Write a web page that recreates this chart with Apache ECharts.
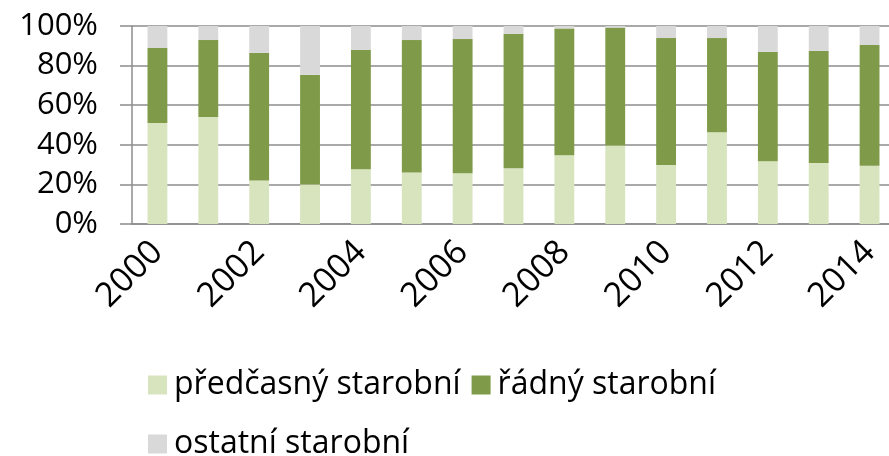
<!DOCTYPE html>
<html>
<head>
<meta charset="utf-8">
<script src="https://cdn.jsdelivr.net/npm/echarts@6/dist/echarts.min.js"></script>
<style>
  html, body { margin: 0; padding: 0; background: #fff; }
  #chart { width: 889px; height: 456px; }
</style>
</head>
<body>
<div id="chart"></div>
<script>
// roky
var years = ["2000", "2001", "2002", "2003", "2004", "2005", "2006", "2007",
  "2008", "2009", "2010", "2011", "2012", "2013", "2014"];
// podíly v %
var predcasny = [51, 54, 22, 20, 27.6, 26, 25.6, 28.1, 34.7, 39.7, 29.8, 46.3, 31.7, 30.8, 29.4];
var radny = [38, 38.9, 64.4, 55.3, 60.3, 66.9, 67.8, 68, 64.1, 59.5, 64.1, 47.6, 55.3, 56.6, 61];
var ostatni = [11, 7.1, 13.6, 24.7, 12.1, 7.1, 6.6, 3.9, 1.2, 0.8, 6.1, 6.1, 13, 12.6, 9.6];
var yTicks = [0, 20, 40, 60, 80, 100];

var chart = echarts.init(document.getElementById("chart"));
var font = "'Open Sans', sans-serif";
var lineCol = "#8c8c8c";

var legendText = { fontSize: 32, fontFamily: font, color: "#000", padding: [0, 0, 0, 2] };

var option = {
  animation: false,
  textStyle: { fontFamily: font, color: "#000" },
  grid: { left: 132, top: 26, bottom: 232, right: -6, outerBoundsMode: "none", containLabel: false },
  legend: [
    {
      data: ["předčasný starobní", "řádný starobní"],
      left: 143, top: 364,
      itemWidth: 19, itemHeight: 19, itemGap: 11,
      icon: "rect",
      textStyle: legendText
    },
    {
      data: ["ostatní starobní"],
      left: 143, top: 423,
      itemWidth: 19, itemHeight: 19,
      icon: "rect",
      textStyle: legendText
    }
  ],
  xAxis: {
    type: "category",
    data: years,
    axisLine: { lineStyle: { color: lineCol, width: 1.5 } },
    axisTick: { interval: 0, length: 12, lineStyle: { color: lineCol, width: 1.5 } },
    axisLabel: {
      interval: 1, rotate: 45, margin: 23,
      fontSize: 34, fontFamily: font, color: "#000"
    }
  },
  yAxis: {
    type: "value",
    min: yTicks[0], max: yTicks[yTicks.length - 1], interval: 20,
    axisLine: { show: true, lineStyle: { color: lineCol, width: 1.5 } },
    axisTick: { show: true, length: 12, lineStyle: { color: lineCol, width: 1.5 } },
    splitLine: { lineStyle: { color: lineCol, width: 1.5 } },
    axisLabel: {
      formatter: "{value}%", margin: 34,
      fontSize: 31, fontFamily: font, color: "#000"
    }
  },
  series: [
    { name: "předčasný starobní", type: "bar", stack: "a", barWidth: "39%",
      itemStyle: { color: "#d7e4bd" }, data: predcasny },
    { name: "řádný starobní", type: "bar", stack: "a",
      itemStyle: { color: "#7f9a48" }, data: radny },
    { name: "ostatní starobní", type: "bar", stack: "a",
      itemStyle: { color: "#d9d9d9" }, data: ostatni }
  ]
};
chart.setOption(option);
</script>
</body>
</html>
